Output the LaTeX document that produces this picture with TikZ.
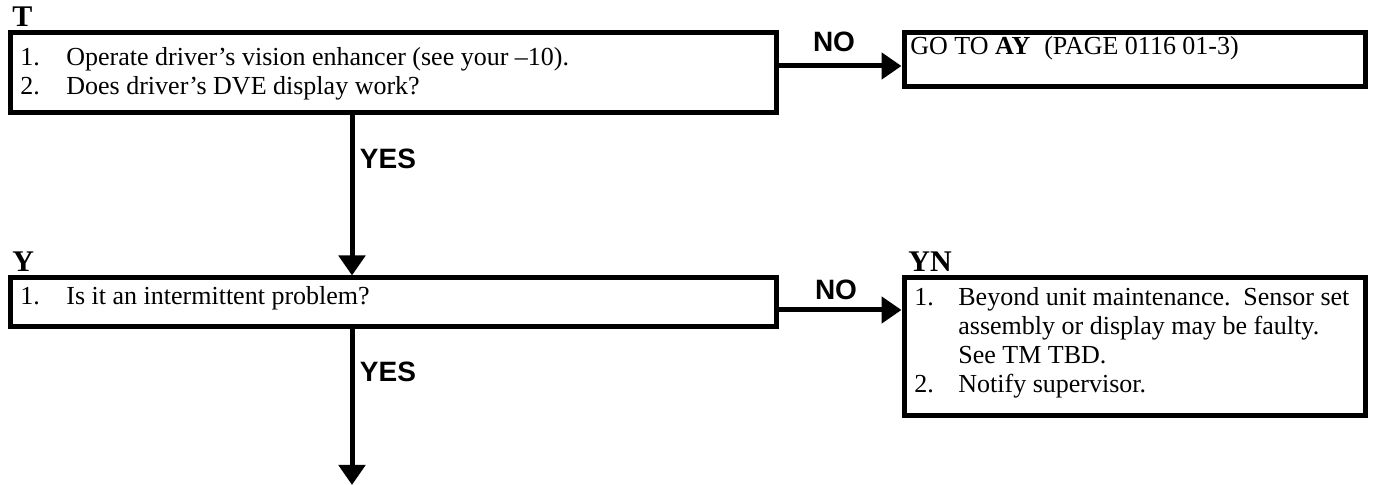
\documentclass[tikz,border=0pt]{standalone}
\usepackage{fontspec}
\setmainfont{Liberation Serif}
\newfontfamily\lblsans{Liberation Sans}
\usetikzlibrary{arrows.meta}
\begin{document}
\begin{tikzpicture}[x=0.5pt,y=-0.5pt,
  box/.style={draw, line width=2.5pt, inner sep=0pt, anchor=north west},
  body/.style={anchor=base west, inner sep=0pt, font=\fontsize{13}{14.5}\selectfont},
  tag/.style={anchor=base west, inner sep=0pt, font=\fontsize{15}{15}\selectfont\bfseries},
  lbl/.style={inner sep=0pt, font=\lblsans\fontsize{14}{14}\selectfont\bfseries},
  flow/.style={line width=2.5pt, -{Triangle[length=10pt,width=13pt]}},
]
\useasboundingbox (0,0) rectangle (1373,485);
% boxes
\node[box, minimum width=383pt, minimum height=40pt] (T) at (7.5,30.5) {};
\node[box, minimum width=230.5pt, minimum height=27pt] (GO) at (901.5,30.5) {};
\node[box, minimum width=383pt, minimum height=24.5pt] (Y) at (7.5,275.5) {};
\node[box, minimum width=230.5pt, minimum height=69pt] (YN) at (901.5,275.5) {};
% tags
\node[tag] (tT) at (12,27) {T};
\node[tag] (tY) at (12,272) {Y};
\node[tag] (tYN) at (908,272) {YN};
% texts
\node[body] (xT) at (20,66) {\begin{tabular}[t]{@{}p{23pt}@{}l@{}}
1. & Operate driver’s vision enhancer (see your –10).\\
2. & Does driver’s DVE display work?
\end{tabular}};
\node[body] (xGO) at (910,55) {GO TO \textbf{AY}\hspace{7pt}(PAGE 0116 01-3)};
\node[body] (xY) at (20,305) {\begin{tabular}[t]{@{}p{23pt}@{}l@{}}
1. & Is it an intermittent problem?
\end{tabular}};
\node[body] (xYN) at (914,306) {\begin{tabular}[t]{@{}p{22pt}@{}l@{}}
1. & Beyond unit maintenance.\hspace{2pt} Sensor set\\
 & assembly or display may be faulty.\\
 & See TM TBD.\\
2. & Notify supervisor.
\end{tabular}};
% connectors
\coordinate (r1) at (0,66);
\coordinate (r2) at (0,310);
\coordinate (c1) at (352,0);
\coordinate (end) at (352,485);
\draw[flow] (T.east |- r1) -- (GO.west |- r1);
\draw[flow] (Y.east |- r2) -- (YN.west |- r2);
\draw[flow] (T.south -| c1) -- (Y.north -| c1);
\draw[flow] (Y.south -| c1) -- (end);
% labels
\node[lbl] (n1) at (834,42) {NO};
\node[lbl] (n2) at (836,290) {NO};
\node[lbl] (y1) at (388,159) {YES};
\node[lbl] (y2) at (388,372) {YES};
\end{tikzpicture}
\end{document}
